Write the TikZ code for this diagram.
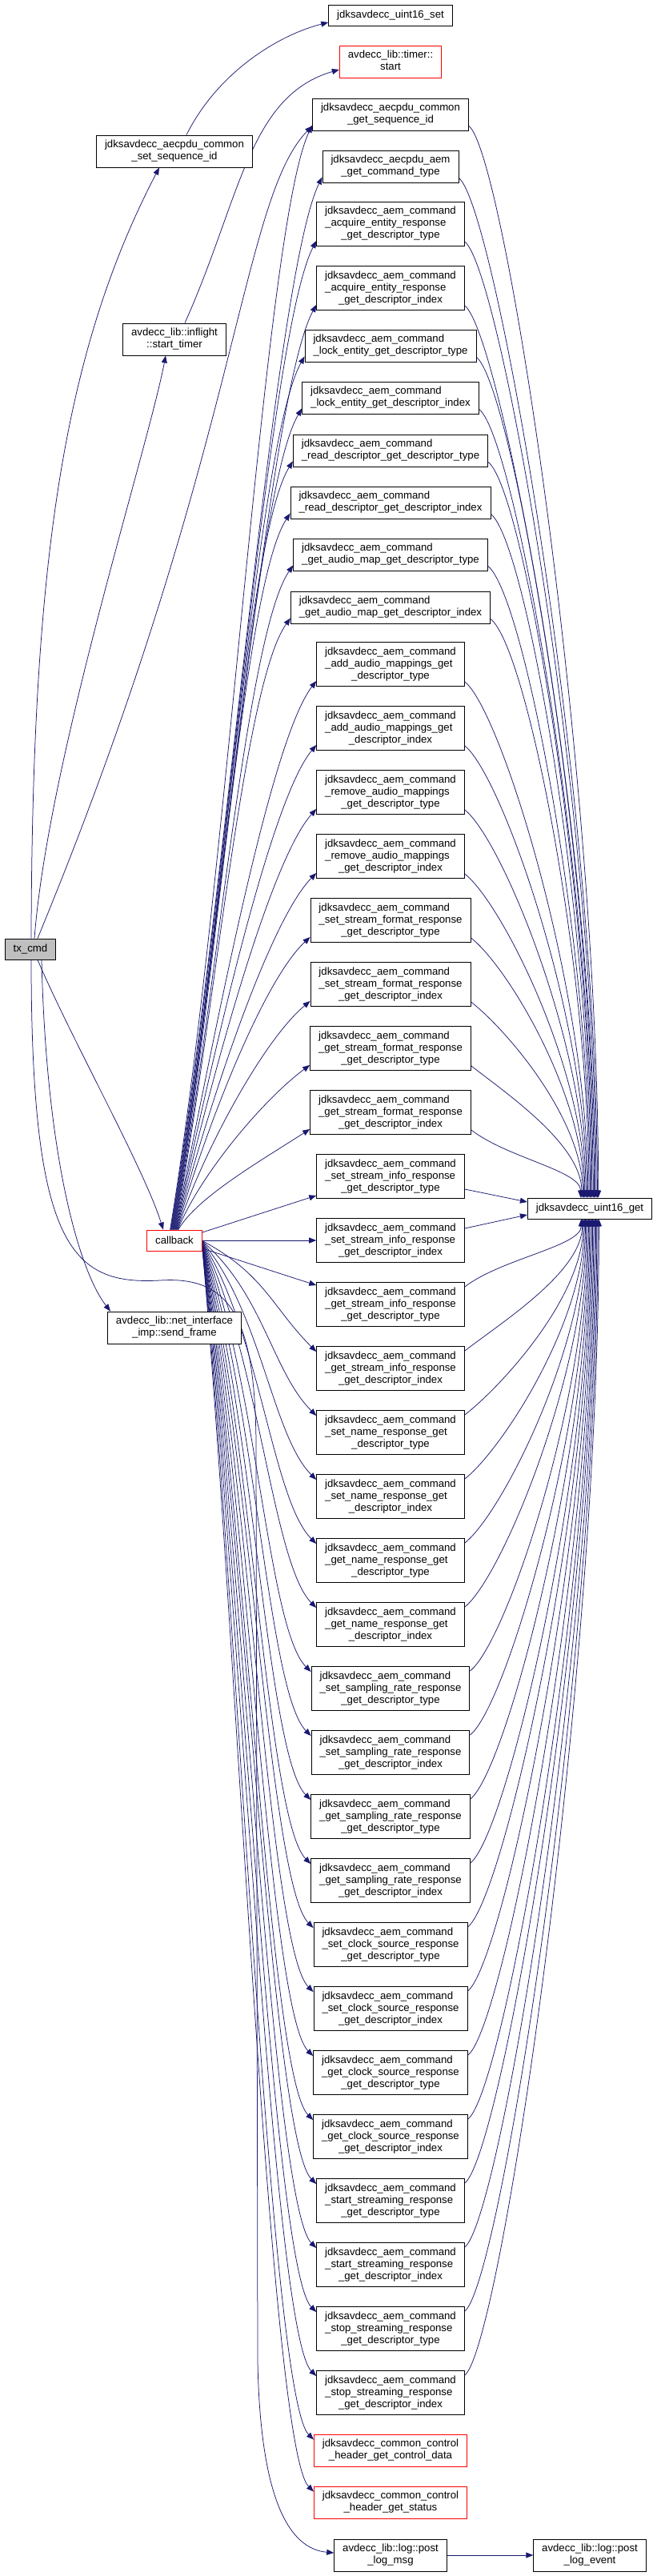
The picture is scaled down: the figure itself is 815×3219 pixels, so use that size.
\documentclass[tikz,border=0pt]{standalone}
\usepackage{fontspec}
\setmainfont{Liberation Sans}
\usetikzlibrary{arrows.meta}
\usetikzlibrary{calc}
\definecolor{edgeblue}{HTML}{191970}
\definecolor{rootgrey}{HTML}{BFBFBF}
\pgfdeclarelayer{background}
\pgfsetlayers{background,main}
\newcommand{\twoline}[2]{\begin{tabular}{@{}l@{}}#1\\\multicolumn{1}{@{}c@{}}{#2}\end{tabular}}
\newcommand{\threeline}[3]{\begin{tabular}{@{}l@{}}#1\\#2\\\multicolumn{1}{@{}c@{}}{#3}\end{tabular}}
\newcommand{\aemcmd}{jdksavdecc\_aem\_command}
\newcommand{\dtype}{\_get\_descriptor\_type}
\newcommand{\dindex}{\_get\_descriptor\_index}
\tikzset{
  funcbox/.style={draw=black,line width=0.9pt,fill=white,inner xsep=10.5pt,inner ysep=5pt,
    minimum height=26pt,font=\fontsize{13.2}{15}\selectfont},
  funcboxred/.style={funcbox,draw=red},
  rootbox/.style={funcbox,fill=rootgrey},
  callarrow/.style={draw=edgeblue,line width=0.75pt,-{Triangle[length=9pt,width=7pt]}}
}

\begin{document}
\begin{tikzpicture}[x=1pt,y=1pt]
\useasboundingbox (0,0) rectangle (815,-3219);

\node[rootbox] (txcmd) at (38,-1186) {tx\_cmd};
\node[funcbox] (setseq) at (218,-189) {\twoline{jdksavdecc\_aecpdu\_common}{\_set\_sequence\_id}};
\node[funcbox] (stimer) at (218,-424) {\twoline{avdecc\_lib::inflight}{::start\_timer}};
\node[funcboxred] (cb) at (218,-1550) {callback};
\node[funcbox] (sendfr) at (218,-1659) {\twoline{avdecc\_lib::net\_interface}{\_imp::send\_frame}};

\node[funcbox] (u16set) at (488,-19) {jdksavdecc\_uint16\_set};
\node[funcboxred] (tstart) at (488,-77) {\twoline{avdecc\_lib::timer::}{start}};
\node[funcbox] (seqget) at (488,-143) {\twoline{jdksavdecc\_aecpdu\_common}{\_get\_sequence\_id}};
\node[funcbox] (cmdtype) at (488,-208) {\twoline{jdksavdecc\_aecpdu\_aem}{\_get\_command\_type}};
\node[funcbox] (acqtype) at (488,-280) {\threeline{\aemcmd}{\_acquire\_entity\_response}{\dtype}};
\node[funcbox] (acqidx) at (488,-360) {\threeline{\aemcmd}{\_acquire\_entity\_response}{\dindex}};
\node[funcbox] (locktype) at (488,-432) {\twoline{\aemcmd}{\_lock\_entity\_get\_descriptor\_type}};
\node[funcbox] (lockidx) at (488,-497) {\twoline{\aemcmd}{\_lock\_entity\_get\_descriptor\_index}};
\node[funcbox] (readtype) at (488,-563) {\twoline{\aemcmd}{\_read\_descriptor\_get\_descriptor\_type}};
\node[funcbox] (readidx) at (488,-628) {\twoline{\aemcmd}{\_read\_descriptor\_get\_descriptor\_index}};
\node[funcbox] (amaptype) at (488,-693) {\twoline{\aemcmd}{\_get\_audio\_map\_get\_descriptor\_type}};
\node[funcbox] (amapidx) at (488,-759) {\twoline{\aemcmd}{\_get\_audio\_map\_get\_descriptor\_index}};
\node[funcbox] (addtype) at (488,-830) {\threeline{\aemcmd}{\_add\_audio\_mappings\_get}{\_descriptor\_type}};
\node[funcbox] (addidx) at (488,-910) {\threeline{\aemcmd}{\_add\_audio\_mappings\_get}{\_descriptor\_index}};
\node[funcbox] (remtype) at (488,-990) {\threeline{\aemcmd}{\_remove\_audio\_mappings}{\dtype}};
\node[funcbox] (remidx) at (488,-1070) {\threeline{\aemcmd}{\_remove\_audio\_mappings}{\dindex}};
\node[funcbox] (ssftype) at (488,-1150) {\threeline{\aemcmd}{\_set\_stream\_format\_response}{\dtype}};
\node[funcbox] (ssfidx) at (488,-1230) {\threeline{\aemcmd}{\_set\_stream\_format\_response}{\dindex}};
\node[funcbox] (gsftype) at (488,-1310) {\threeline{\aemcmd}{\_get\_stream\_format\_response}{\dtype}};
\node[funcbox] (gsfidx) at (488,-1390) {\threeline{\aemcmd}{\_get\_stream\_format\_response}{\dindex}};
\node[funcbox] (ssitype) at (488,-1470) {\threeline{\aemcmd}{\_set\_stream\_info\_response}{\dtype}};
\node[funcbox] (ssiidx) at (488,-1550) {\threeline{\aemcmd}{\_set\_stream\_info\_response}{\dindex}};
\node[funcbox] (gsitype) at (488,-1630) {\threeline{\aemcmd}{\_get\_stream\_info\_response}{\dtype}};
\node[funcbox] (gsiidx) at (488,-1710) {\threeline{\aemcmd}{\_get\_stream\_info\_response}{\dindex}};
\node[funcbox] (snametype) at (488,-1790) {\threeline{\aemcmd}{\_set\_name\_response\_get}{\_descriptor\_type}};
\node[funcbox] (snameidx) at (488,-1870) {\threeline{\aemcmd}{\_set\_name\_response\_get}{\_descriptor\_index}};
\node[funcbox] (gnametype) at (488,-1950) {\threeline{\aemcmd}{\_get\_name\_response\_get}{\_descriptor\_type}};
\node[funcbox] (gnameidx) at (488,-2030) {\threeline{\aemcmd}{\_get\_name\_response\_get}{\_descriptor\_index}};
\node[funcbox] (ssrtype) at (488,-2110) {\threeline{\aemcmd}{\_set\_sampling\_rate\_response}{\dtype}};
\node[funcbox] (ssridx) at (488,-2190) {\threeline{\aemcmd}{\_set\_sampling\_rate\_response}{\dindex}};
\node[funcbox] (gsrtype) at (488,-2270) {\threeline{\aemcmd}{\_get\_sampling\_rate\_response}{\dtype}};
\node[funcbox] (gsridx) at (488,-2350) {\threeline{\aemcmd}{\_get\_sampling\_rate\_response}{\dindex}};
\node[funcbox] (scstype) at (488,-2430) {\threeline{\aemcmd}{\_set\_clock\_source\_response}{\dtype}};
\node[funcbox] (scsidx) at (488,-2510) {\threeline{\aemcmd}{\_set\_clock\_source\_response}{\dindex}};
\node[funcbox] (gcstype) at (488,-2590) {\threeline{\aemcmd}{\_get\_clock\_source\_response}{\dtype}};
\node[funcbox] (gcsidx) at (488,-2670) {\threeline{\aemcmd}{\_get\_clock\_source\_response}{\dindex}};
\node[funcbox] (startype) at (488,-2750) {\threeline{\aemcmd}{\_start\_streaming\_response}{\dtype}};
\node[funcbox] (staridx) at (488,-2830) {\threeline{\aemcmd}{\_start\_streaming\_response}{\dindex}};
\node[funcbox] (stoptype) at (488,-2910) {\threeline{\aemcmd}{\_stop\_streaming\_response}{\dtype}};
\node[funcbox] (stopidx) at (488,-2990) {\threeline{\aemcmd}{\_stop\_streaming\_response}{\dindex}};
\node[funcboxred] (ctrldata) at (488,-3062) {\twoline{jdksavdecc\_common\_control}{\_header\_get\_control\_data}};
\node[funcboxred] (ctrlstat) at (488,-3127) {\twoline{jdksavdecc\_common\_control}{\_header\_get\_status}};
\node[funcbox] (logmsg) at (488,-3193) {\twoline{avdecc\_lib::log::post}{\_log\_msg}};
\node[funcbox] (logevt) at (737,-3193) {\twoline{avdecc\_lib::log::post}{\_log\_event}};

\node[funcbox] (u16get) at (737,-1510) {jdksavdecc\_uint16\_get};

\begin{pgfonlayer}{background}
% tx_cmd
\draw[callarrow] ([xshift=1pt]txcmd.north) .. controls (40,-700) and (80,-438) .. ([xshift=-19pt]setseq.south);
\draw[callarrow] ([xshift=5pt]txcmd.north) .. controls (60,-950) and (185,-560) .. ([xshift=-11pt]stimer.south);
\draw[callarrow] ([xshift=9pt]txcmd.north) .. controls (300,-560) and (300,-250) .. ([yshift=6pt]seqget.south west);
\draw[callarrow] ([xshift=9pt]txcmd.south) .. controls (90,-1300) and (180,-1460) .. ([xshift=-14pt]cb.north);
\draw[callarrow] ([xshift=14pt]txcmd.south) .. controls (58,-1450) and (100,-1590) .. ([xshift=4pt]sendfr.north west);
\draw[callarrow] ([xshift=1pt]txcmd.south) .. controls (39,-1560) and (90,-1606) .. (200,-1600)
  .. controls (290,-1594) and (318,-1650) .. (320,-1800) -- (322,-2950)
  .. controls (325,-3120) and (360,-3185) .. ([yshift=3pt]logmsg.west);

\draw[callarrow] ([xshift=15pt]setseq.north) .. controls +(40,80) and +(-60,-15) .. ([yshift=-9pt]u16set.west);
\draw[callarrow] ([xshift=13pt]stimer.north) .. controls (300,-250) and (310,-120) .. ([yshift=-10pt]tstart.west);

% callback
\foreach \b [count=\i] in {seqget,cmdtype,acqtype,acqidx,locktype,lockidx,readtype,readidx,amaptype,amapidx,addtype,addidx,remtype,remidx,ssftype,ssfidx,gsftype,gsfidx}
  \draw[callarrow] let \p1=([xshift={\i*0.6-6}]cb.north), \p2=([yshift=7pt]\b.south west), \n1={\y2-\y1} in
    (\p1) .. controls +({0.04*\n1+18},{0.32*\n1}) and +(-60,{-0.07*\n1-30}) .. (\p2);
\draw[callarrow] ([yshift=10pt]cb.east) -- ([yshift=4pt]ssitype.south west);
\draw[callarrow] (cb.east) -- (ssiidx.west);
\draw[callarrow] ([yshift=-10pt]cb.east) -- ([yshift=-4pt]gsitype.north west);
\foreach \b [count=\i] in {gsiidx,snametype,snameidx,gnametype,gnameidx,ssrtype,ssridx,gsrtype,gsridx,scstype,scsidx,gcstype,gcsidx,startype,staridx,stoptype,stopidx,ctrldata,ctrlstat}
  \draw[callarrow] let \p1=([yshift={-\i*0.5}]cb.east), \p2=([yshift=-7pt]\b.north west), \n1={\y1-\y2} in
    (\p1) .. controls +({80-2*\i},{-0.3*\n1}) and +(-55,55) .. (\p2);

% uint16_get
\foreach \b [count=\i] in {seqget,cmdtype,acqtype,acqidx,locktype,lockidx,readtype,readidx,amaptype,amapidx,addtype,addidx,remtype,remidx,ssftype,ssfidx,gsftype,gsfidx}
  \draw[callarrow] let \p1=([yshift=6pt]\b.south east), \p2=([xshift={12-\i*1.3}]u16get.north), \n1={\y1-\y2} in
    (\p1) .. controls +(45,-35) and +(0,{0.4*\n1}) .. (\p2);
\draw[callarrow] ([yshift=-16pt]ssitype.east) -- ([yshift=8pt]u16get.west);
\draw[callarrow] ([yshift=15pt]ssiidx.east) -- ([yshift=-8pt]u16get.west);
\foreach \b [count=\i] in {gsitype,gsiidx,snametype,snameidx,gnametype,gnameidx,ssrtype,ssridx,gsrtype,gsridx,scstype,scsidx,gcstype,gcsidx,startype,staridx,stoptype,stopidx}
  \draw[callarrow] let \p1=([yshift=-6pt]\b.north east), \p2=([xshift={\i*1.3-12}]u16get.south), \n1={\y1-\y2} in
    (\p1) .. controls +(45,35) and +(0,{0.4*\n1}) .. (\p2);

\draw[callarrow] (logmsg) -- (logevt);
\end{pgfonlayer}
\end{tikzpicture}
\end{document}
